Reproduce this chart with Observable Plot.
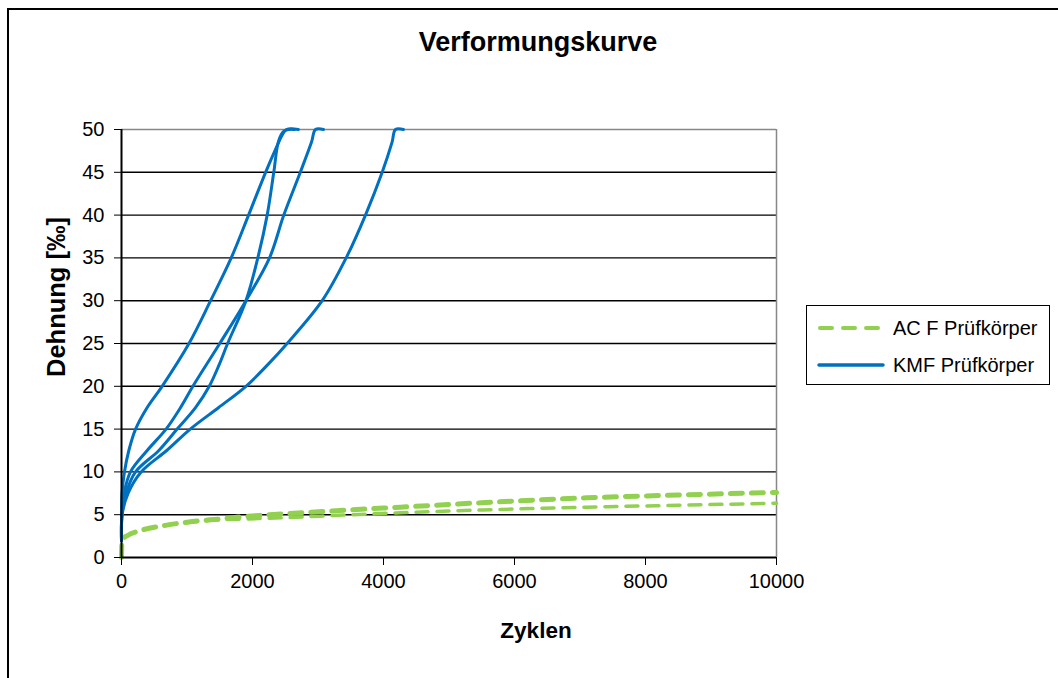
<!DOCTYPE html>
<html>
<head>
<meta charset="utf-8">
<script src="https://cdn.jsdelivr.net/npm/d3@7"></script>
<script src="https://cdn.jsdelivr.net/npm/@observablehq/plot@0.6"></script>
<style>
  html, body { margin: 0; padding: 0; background: #fff; }
  #wrap { position: relative; width: 1058px; height: 678px; overflow: hidden; font-family: "Liberation Sans", Arial, sans-serif; color: #000; }
  #frame { position: absolute; left: 7px; top: 8px; width: 1100px; height: 700px; border: 2px solid #000; box-sizing: border-box; }
  #chart { position: absolute; left: 0; top: 0; }
  .title { position: absolute; left: 0; width: 1076px; top: 27px; text-align: center; font-weight: bold; font-size: 27px; }
  .xlabel { position: absolute; left: 0; width: 1072px; top: 618px; text-align: center; font-weight: bold; font-size: 22.5px; }
  .ylabel { position: absolute; left: 56px; top: 297px; transform: translate(-50%, -50%) rotate(-90deg); white-space: nowrap; font-weight: bold; font-size: 25.5px; }
  #legend { position: absolute; left: 806px; top: 305px; width: 244px; height: 80px; border: 1.5px solid #000; box-sizing: border-box; background: #fff; }
  .lrow { position: absolute; left: 10px; height: 30px; display: flex; align-items: center; font-size: 20px; }
  .lrow svg { margin-right: 8px; }
</style>
</head>
<body>
<div id="wrap">
  <div id="frame"></div>
  <div id="chart"></div>
  <div class="title">Verformungskurve</div>
  <div class="xlabel">Zyklen</div>
  <div class="ylabel">Dehnung [‰]</div>
  <div id="legend">
    <div class="lrow" style="top:7px"><svg width="68" height="10"><line x1="3" y1="5" x2="66" y2="5" stroke="#92D050" stroke-width="4" stroke-dasharray="12,11" stroke-linecap="round"/></svg>AC F Prüfkörper</div>
    <div class="lrow" style="top:44px"><svg width="68" height="10"><line x1="2" y1="5" x2="66" y2="5" stroke="#0070C0" stroke-width="3.5" stroke-linecap="round"/></svg>KMF Prüfkörper</div>
  </div>
</div>
<script>
// Tick values
const xTicks = [0, 2000, 4000, 6000, 8000, 10000];
const yTicks = [0, 5, 10, 15, 20, 25, 30, 35, 40, 45, 50];

// AC F Prüfkörper (two specimens)
const acf1X = [0, 5, 15, 100, 290, 670, 1080, 1500, 1900, 2500, 3470, 4260, 5500, 7100, 8500, 10000];
const acf1Y = [0, 1.5, 2.1, 2.6, 3.15, 3.75, 4.2, 4.5, 4.8, 5.1, 5.55, 5.88, 6.4, 6.97, 7.3, 7.6];
const acf2X = [0, 5, 15, 100, 290, 670, 1080, 1500, 1900, 2500, 3470, 4260, 5500, 7100, 8500, 10000];
const acf2Y = [0, 1.5, 2.1, 2.6, 3.15, 3.75, 4.15, 4.4, 4.5, 4.65, 4.98, 5.22, 5.55, 5.88, 6.1, 6.35];

// KMF Prüfkörper (four specimens)
const kmf1X = [0, 2, 8, 45, 112, 215, 390, 620, 1030, 1360, 1675, 1940, 2200, 2370, 2450, 2520, 2700];
const kmf1Y = [2, 5, 7.5, 10, 12.5, 15, 17.5, 20, 25, 30, 35, 40, 45, 48, 49.3, 50, 50];
const kmf2X = [0, 8, 70, 214, 570, 850, 1130, 1340, 1490, 1620, 1900, 2081, 2224, 2325, 2400, 2480, 2560, 2640];
const kmf2Y = [2, 5, 7.5, 10, 12.5, 15, 17.5, 20, 22.5, 25, 30, 35, 40, 45, 48.7, 49.8, 50, 50];
const kmf3X = [0, 5, 40, 137, 392, 680, 900, 1090, 1500, 1900, 2260, 2478, 2730, 2900, 2962, 3084];
const kmf3Y = [2, 5, 7.5, 10, 12.5, 15, 17.5, 20, 25, 30, 35, 40, 45, 48.5, 50, 50];
const kmf4X = [0, 10, 100, 300, 690, 1050, 1480, 1900, 2230, 2529, 3064, 3430, 3725, 3980, 4130, 4183, 4305];
const kmf4Y = [2, 5, 7.5, 10, 12.5, 15, 17.5, 20, 22.5, 25, 30, 35, 40, 45, 48.5, 50, 50];

const rows = (name, xs, ys) => xs.map((x, i) => ({series: name, x, y: ys[i]}));
const acfA = rows("AC F 1", acf1X, acf1Y);
const acfB = rows("AC F 2", acf2X, acf2Y);
const kmf = [
  ...rows("KMF 1", kmf1X, kmf1Y),
  ...rows("KMF 2", kmf2X, kmf2Y),
  ...rows("KMF 3", kmf3X, kmf3Y),
  ...rows("KMF 4", kmf4X, kmf4Y)
];

const chart = Plot.plot({
  width: 1058,
  height: 678,
  marginLeft: 121,
  marginRight: 282,
  marginTop: 129,
  marginBottom: 121,
  style: {fontFamily: "'Liberation Sans', Arial, sans-serif", fontSize: "20px", color: "#000", background: "transparent"},
  x: {domain: [0, 10000]},
  y: {domain: [0, 50]},
  marks: [
    Plot.ruleY(yTicks.filter(v => v > 0 && v < 50), {stroke: "#000", strokeWidth: 1.4}),
    Plot.ruleY([50], {stroke: "#888", strokeWidth: 1.5}),
    Plot.ruleX([10000], {stroke: "#888", strokeWidth: 1.5}),
    Plot.line(acfB, {x: "x", y: "y", stroke: "#92D050", strokeWidth: 3.5, strokeDasharray: "12,9", strokeLinecap: "round", curve: "monotone-x"}),
    Plot.line(acfA, {x: "x", y: "y", stroke: "#92D050", strokeWidth: 5, strokeDasharray: "12,9", strokeLinecap: "round", curve: "monotone-x"}),
    Plot.line(kmf, {x: "x", y: "y", z: "series", stroke: "#0070C0", strokeWidth: 3, curve: "catmull-rom"}),
    Plot.axisX({ticks: xTicks, tickSize: 8, tickPadding: 8, tickFormat: d3.format("d"), label: null, fontSize: 20}),
    Plot.axisY({ticks: yTicks, tickSize: 7, tickPadding: 10, label: null, fontSize: 20}),
    Plot.ruleX([0], {stroke: "#000", strokeWidth: 2}),
    Plot.ruleY([0], {stroke: "#000", strokeWidth: 2})
  ]
});
document.getElementById("chart").appendChild(chart);
</script>
</body>
</html>
